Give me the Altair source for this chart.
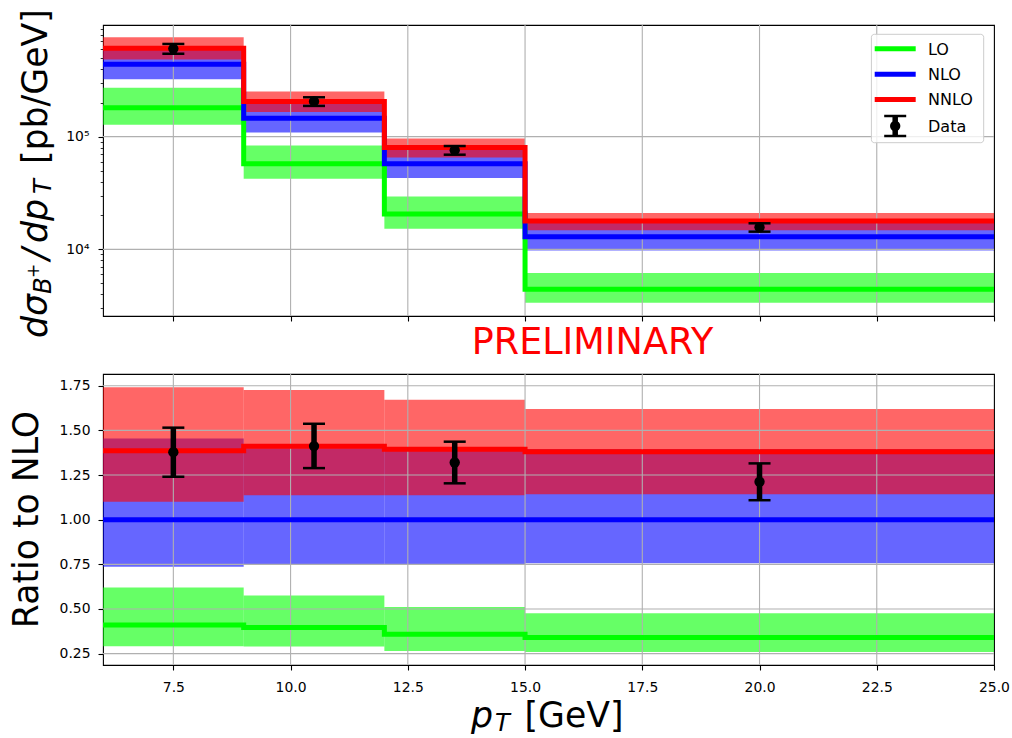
import altair as alt
import pandas as pd

# ---------------- data ----------------
edges = [6, 9, 12, 15, 25]                       # pT bin edges [GeV]

lo_c = [180400, 57600, 20600, 4416]              # dsigma/dpT [pb/GeV]
lo_dn = [127700, 42300, 15200, 3354]
lo_up = [272200, 83700, 29400, 6164]
nlo_c = [439000, 145500, 57500, 12950]
nlo_dn = [323100, 108700, 42950, 9790]
nlo_up = [638700, 203700, 79900, 18070]
nnlo_c = [608500, 205200, 80200, 17870]
nnlo_dn = [482900, 165400, 65400, 14800]
nnlo_up = [764300, 251100, 96100, 20970]

data_pt = [7.5, 10.5, 13.5, 20.0]
data_bin = [0, 1, 2, 3]
data_val = [604900, 205400, 75900, 15700]
data_hi = [665100, 223600, 82600, 17030]
data_low = [544400, 187500, 69200, 14360]

x_ticks = [7.5, 10.0, 12.5, 15.0, 17.5, 20.0, 22.5, 25.0]
x_grid = [7.5, 10.0, 12.5, 15.0, 17.5, 20.0, 22.5]
logy_ticks = [3000, 4000, 5000, 6000, 7000, 8000, 9000,
              10000, 20000, 30000, 40000, 50000, 60000, 70000, 80000, 90000,
              100000, 200000, 300000, 400000, 500000, 600000, 700000, 800000, 900000]
logy_grid = [10000, 100000]
ratio_ticks = [0.25, 0.5, 0.75, 1.0, 1.25, 1.5, 1.75]

orders = ["LO", "NLO", "NNLO"]
order_colors = ["#00ff00", "#0000ff", "#ff0000"]
central = {"LO": lo_c, "NLO": nlo_c, "NNLO": nnlo_c}
lower = {"LO": lo_dn, "NLO": nlo_dn, "NNLO": nnlo_dn}
upper = {"LO": lo_up, "NLO": nlo_up, "NNLO": nnlo_up}

# ---------------- tables ----------------
band_rows = []
for o in orders:
    for i in range(len(edges) - 1):
        band_rows.append(dict(order=o, x0=edges[i], x1=edges[i + 1],
                              lo=lower[o][i], hi=upper[o][i],
                              rlo=lower[o][i] / nlo_c[i], rhi=upper[o][i] / nlo_c[i]))
bands = pd.DataFrame(band_rows)

line_rows = []
for o in orders:
    vals = central[o] + [central[o][-1]]
    ref = nlo_c + [nlo_c[-1]]
    for i, xe in enumerate(edges):
        line_rows.append(dict(order=o, x=xe, y=vals[i], r=vals[i] / ref[i]))
lines = pd.DataFrame(line_rows)

pts = pd.DataFrame(dict(pt=data_pt, y=data_val, hi=data_hi, lo=data_low))
pts["r"] = [v / nlo_c[b] for v, b in zip(data_val, data_bin)]
pts["rhi"] = [v / nlo_c[b] for v, b in zip(data_hi, data_bin)]
pts["rlo"] = [v / nlo_c[b] for v, b in zip(data_low, data_bin)]

xgrid_df = pd.DataFrame(dict(v=x_grid))
dummy = pd.DataFrame(dict(d=[0]))

FONT = "DejaVu Sans"
W, H = 891, 291
xs = alt.Scale(domain=[6, 25], nice=False, zero=False)
ys_top = alt.Scale(type="log", domain=[2561, 979700], nice=False)
ys_bot = alt.Scale(domain=[0.1865, 1.8154], nice=False, zero=False)

common_ax = dict(grid=False, domain=False, title=None, tickColor="black",
                 labelColor="black", labelFont=FONT, labelFontSize=13.9,
                 labelOverlap=False)
xax_top = alt.Axis(values=x_ticks, labels=False, tickSize=5, tickWidth=1.1, **common_ax)
xax_bot = alt.Axis(values=x_ticks, format=".1f", tickSize=5, tickWidth=1.1,
                   labelPadding=10, labelFlush=False, **common_ax)
major_test = "datum.value == 10000 || datum.value == 100000"
yax_top = alt.Axis(values=logy_ticks,
                   labelExpr="datum.value == 10000 ? '10\u2074' : datum.value == 100000 ? '10\u2075' : ''",
                   tickSize={"condition": {"test": major_test, "value": 5}, "value": 2.8},
                   tickWidth={"condition": {"test": major_test, "value": 1.1}, "value": 0.8},
                   labelPadding=9, labelFlush=False, **common_ax)
yax_bot = alt.Axis(values=ratio_ticks, format=".2f", tickSize=5, tickWidth=1.1,
                   labelPadding=8, labelFlush=False, **common_ax)


def panel(ycol, lo_col, hi_col, dy, dlo, dhi, ys, xax, yax, ygrid_vals):
    layers = []
    for o, c in zip(orders, order_colors):
        layers.append(
            alt.Chart(bands).transform_filter(alt.datum.order == o)
            .mark_rect(color=c, opacity=0.6, clip=True)
            .encode(x=alt.X("x0:Q", scale=xs, axis=xax), x2="x1:Q",
                    y=alt.Y(f"{lo_col}:Q", scale=ys, axis=yax), y2=f"{hi_col}:Q")
        )
    layers.append(
        alt.Chart(xgrid_df).mark_rule(color="#b0b0b0", strokeWidth=1.1)
        .encode(x=alt.X("v:Q", scale=xs, axis=xax))
    )
    layers.append(
        alt.Chart(pd.DataFrame(dict(v=ygrid_vals))).mark_rule(color="#b0b0b0", strokeWidth=1.1)
        .encode(y=alt.Y("v:Q", scale=ys, axis=yax))
    )
    for o, c in zip(orders, order_colors):
        layers.append(
            alt.Chart(lines).transform_filter(alt.datum.order == o)
            .mark_line(interpolate="step-after", strokeWidth=5, color=c, clip=True)
            .encode(x=alt.X("x:Q", scale=xs, axis=xax),
                    y=alt.Y(f"{ycol}:Q", scale=ys, axis=yax))
        )
    layers.append(
        alt.Chart(pts).mark_rule(color="black", strokeWidth=5.5)
        .encode(x=alt.X("pt:Q", scale=xs, axis=xax),
                y=alt.Y(f"{dlo}:Q", scale=ys, axis=yax), y2=f"{dhi}:Q")
    )
    for col in (dlo, dhi):
        layers.append(
            alt.Chart(pts).mark_point(shape="stroke", size=484, strokeWidth=2.5,
                                      color="black", opacity=1, filled=False)
            .encode(x=alt.X("pt:Q", scale=xs, axis=xax),
                    y=alt.Y(f"{col}:Q", scale=ys, axis=yax))
        )
    layers.append(
        alt.Chart(pts).mark_circle(size=107, color="black", opacity=1)
        .encode(x=alt.X("pt:Q", scale=xs, axis=xax),
                y=alt.Y(f"{dy}:Q", scale=ys, axis=yax))
    )
    return layers


def txt(s, x, y, size, style="normal", angle=0, align="left", color="black", baseline="alphabetic"):
    kw = dict(text=s, font=FONT, fontSize=size, fontStyle=style, align=align,
              baseline=baseline, color=color)
    if angle:
        kw["angle"] = angle
    return alt.Chart(dummy).mark_text(**kw).encode(x=alt.value(x), y=alt.value(y))


# ---------------- top panel ----------------
top_layers = panel("y", "lo", "hi", "y", "lo", "hi", ys_top, xax_top, yax_top, logy_grid)

# y title: d sigma_{B+} / d p_T [pb/GeV]
top_layers += [
    txt("d\u03c3", -55.6, 313, 34.7, "italic", 270),
    txt("B", -51.6, 269, 24.3, "italic", 270),
    txt("+", -63.6, 253, 17, "normal", 270),
    txt("/", -55.6, 235, 34.7, "italic", 270),
    txt("dp", -55.6, 218, 34.7, "italic", 270),
    txt("T", -51.6, 169, 24.3, "italic", 270),
    txt("[pb/GeV]", -55.6, 139, 34.7, "normal", 270),
    txt("PRELIMINARY", 489.5, 329, 36.5, "normal", 0, "center", "#ff0000"),
]

# legend
leg_x0, leg_x1 = 771.7, 812.7
leg_rows = [23.7, 49.3, 74.5, 101.0]
leg_labels = ["LO", "NLO", "NNLO", "Data"]
top_layers.append(
    alt.Chart(dummy).mark_rect(fill="white", fillOpacity=0.8, stroke="#cccccc",
                               strokeWidth=1, cornerRadius=3)
    .encode(x=alt.value(768.4), x2=alt.value(880.7), y=alt.value(9.3), y2=alt.value(117.7))
)
for ry, c in zip(leg_rows[:3], order_colors):
    top_layers.append(
        alt.Chart(dummy).mark_rule(color=c, strokeWidth=5)
        .encode(x=alt.value(leg_x0), x2=alt.value(leg_x1), y=alt.value(ry))
    )
cx = (leg_x0 + leg_x1) / 2
dyr = leg_rows[3]
top_layers += [
    alt.Chart(dummy).mark_rule(color="black", strokeWidth=5.5)
    .encode(x=alt.value(cx), y=alt.value(dyr - 10), y2=alt.value(dyr + 10)),
    alt.Chart(dummy).mark_rule(color="black", strokeWidth=2.5)
    .encode(x=alt.value(cx - 11), x2=alt.value(cx + 11), y=alt.value(dyr - 10)),
    alt.Chart(dummy).mark_rule(color="black", strokeWidth=2.5)
    .encode(x=alt.value(cx - 11), x2=alt.value(cx + 11), y=alt.value(dyr + 10)),
    alt.Chart(dummy).mark_circle(size=107, color="black", opacity=1)
    .encode(x=alt.value(cx), y=alt.value(dyr)),
]
for ry, lab in zip(leg_rows, leg_labels):
    top_layers.append(txt(lab, 825, ry + 5.8, 16))

# invisible anchor fixing the page offset of the plot area
top_layers.append(
    alt.Chart(dummy).mark_rule(strokeWidth=0, opacity=0)
    .encode(x=alt.value(-101.6), x2=alt.value(-101.6), y=alt.value(-24), y2=alt.value(-23))
)

top = alt.layer(*top_layers).properties(width=W, height=H)

# ---------------- bottom panel ----------------
bot_layers = panel("r", "rlo", "rhi", "r", "rlo", "rhi", ys_bot, xax_bot, yax_bot, ratio_ticks)
bot_layers += [
    txt("Ratio to NLO", -64.9, 145.5, 34.7, "normal", 270, "center"),
    txt("p", 368, 353, 34.7, "italic"),
    txt("T", 392, 357, 24.3, "italic"),
    txt("[GeV]", 421.5, 353, 34.7, "normal"),
]
bottom = alt.layer(*bot_layers).properties(width=W, height=H)

chart = (
    alt.vconcat(top, bottom, spacing=58, bounds="flush")
    .properties(padding=0, background="white")
    .configure_view(stroke="black", strokeWidth=1.1)
)

chart.save("out.html", embed_options={"renderer": "svg", "actions": False})
